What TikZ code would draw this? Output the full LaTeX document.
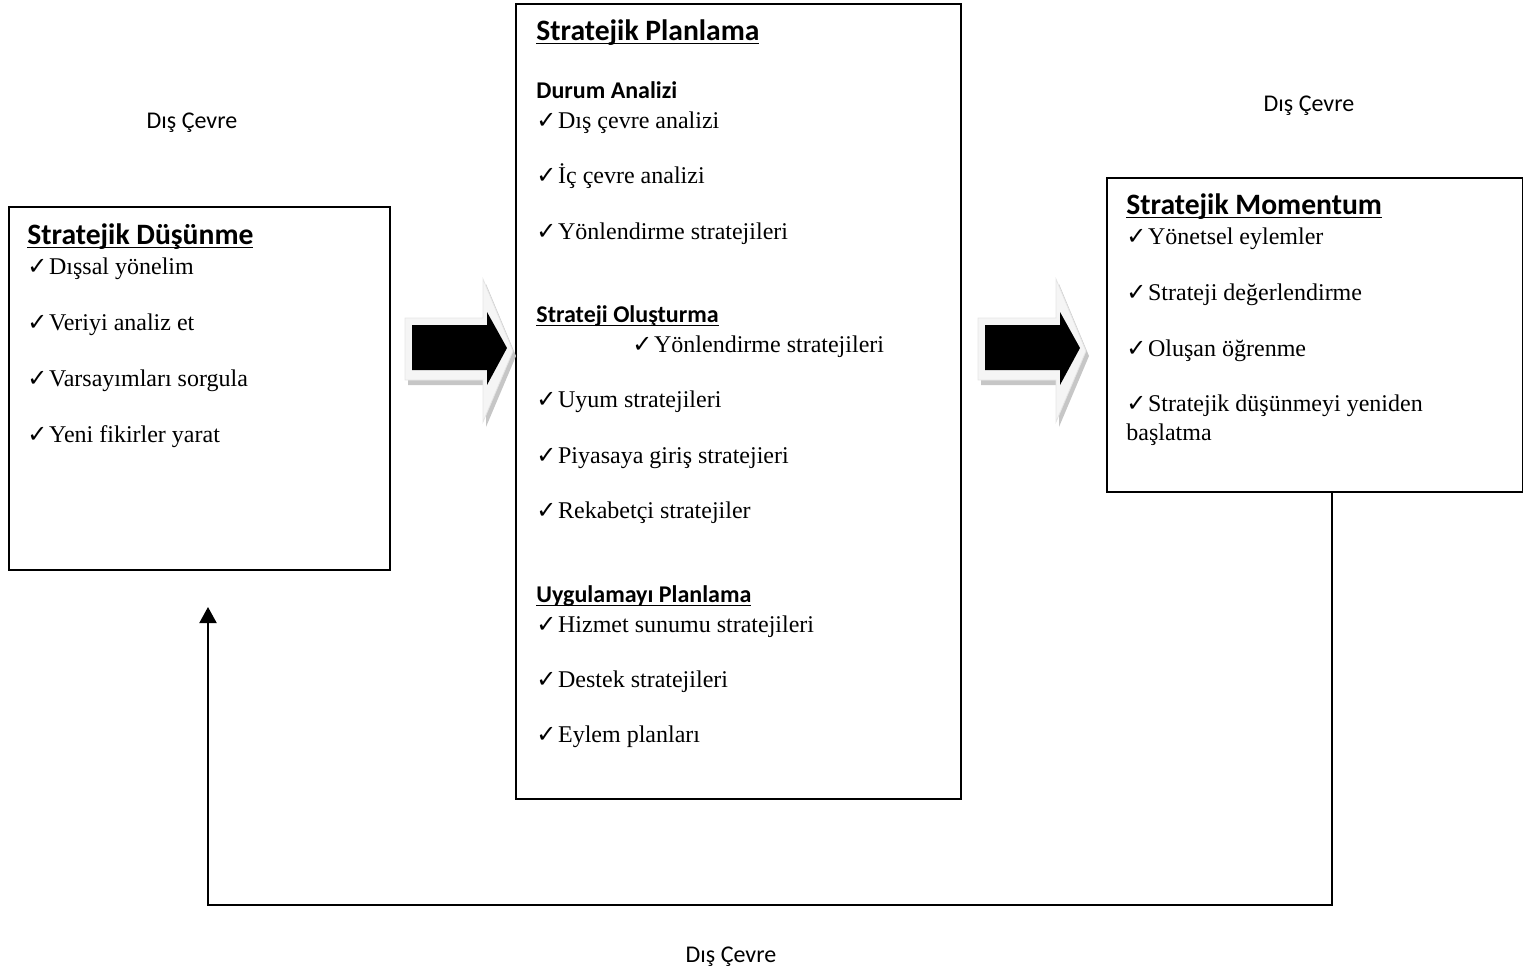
\documentclass[tikz,border=0pt]{standalone}
\usepackage{fontspec}
\setmainfont{Liberation Serif}
\newfontfamily\headfont{Carlito}
\newfontfamily\tickfont{DejaVu Sans}
\usetikzlibrary{positioning,arrows.meta}

\newcommand{\tick}{{\tickfont\fontsize{12}{14}\selectfont ✓}\hspace{0.8pt}}
\newcommand{\hul}[1]{\leavevmode\setbox0\hbox{#1}\rlap{\rule[-2.2pt]{\wd0}{0.9pt}}\box0}

\tikzset{
  box/.style={draw, line width=1pt, anchor=north west, inner sep=0pt},
  head/.style={anchor=base west, inner sep=0pt, font=\headfont\bfseries\fontsize{14.8}{16}\selectfont},
  sub/.style={anchor=base west, inner sep=0pt, font=\headfont\bfseries\fontsize{12}{14}\selectfont},
  item/.style={anchor=base west, inner sep=0pt, font=\fontsize{12}{14}\selectfont},
  cevre/.style={inner sep=0pt, font=\headfont\fontsize{12}{14}\selectfont},
}

\begin{document}
\begin{tikzpicture}[x=0.5pt, y=-0.5pt]
  \useasboundingbox (0,0) rectangle (1523,970);

  % kutular
  \node[box, minimum width=190.5pt, minimum height=181.5pt] (dusunme) at (8,206) {};
  \node[box, minimum width=222.5pt, minimum height=397.5pt] (planlama) at (515,3) {};
  \node[box, minimum width=208pt, minimum height=157pt] (momentum) at (1106,177) {};

  % stratejik dusunme
  \node[head] (dusbaslik) at (27,244) {\hul{Stratejik Düşünme}};
  \foreach \t [count=\i] in {Dışsal yönelim, Veriyi analiz et, Varsayımları sorgula, Yeni fikirler yarat}
    \node[item] (dus\i) at (27,{274+56*(\i-1)}) {\tick\t};

  % stratejik planlama
  \node[head] (planbaslik) at (536,40) {\hul{Stratejik Planlama}};
  \node[sub] (durum) at (536,98) {Durum Analizi};
  \node[item] (durum1) at (536,128) {\tick Dış çevre analizi};
  \node[item] (durum2) at (536,183) {\tick İç çevre analizi};
  \node[item] (durum3) at (536,239) {\tick Yönlendirme stratejileri};
  \node[sub] (olusturma) at (536,322) {\hul{Strateji Oluşturma}};
  \node[item] (olus1) at (632,352) {\tick Yönlendirme stratejileri};
  \node[item] (olus2) at (536,407) {\tick Uyum stratejileri};
  \node[item] (olus3) at (536,463) {\tick Piyasaya giriş stratejieri};
  \node[item] (olus4) at (536,518) {\tick Rekabetçi stratejiler};
  \node[sub] (uygulama) at (536,602) {\hul{Uygulamayı Planlama}};
  \node[item] (uyg1) at (536,632) {\tick Hizmet sunumu stratejileri};
  \node[item] (uyg2) at (536,687) {\tick Destek stratejileri};
  \node[item] (uyg3) at (536,742) {\tick Eylem planları};

  % stratejik momentum
  \node[head] (mombaslik) at (1126,214) {\hul{Stratejik Momentum}};
  \node[item] (mom1) at (1126,244) {\tick Yönetsel eylemler};
  \node[item] (mom2) at (1126,300) {\tick Strateji değerlendirme};
  \node[item] (mom3) at (1126,356) {\tick Oluşan öğrenme};
  \node[item] (mom4) at (1126,411) {\tick Stratejik düşünmeyi yeniden};
  \node[item] (mom5) at (1126,440) {başlatma};

  % dis cevre
  \node[cevre] (cevresol) at (192,123) {Dış Çevre};
  \node[cevre] (cevresag) at (1309,106) {Dış Çevre};
  \node[cevre] (cevrealt) at (731,957) {Dış Çevre};

  % blok oklar
  \foreach \ax in {405,978} {
    \fill[gray!45, shift={(\ax+3,5)}] (0,318) -- (78,318) -- (78,279) -- (108,351) -- (78,422) -- (78,380) -- (0,380) -- cycle;
    \filldraw[fill=gray!8, draw=gray!20, shift={(\ax,0)}] (0,318) -- (78,318) -- (78,279) -- (108,351) -- (78,422) -- (78,380) -- (0,380) -- cycle;
    \fill[black, shift={(\ax,0)}] (7,325) -- (82,325) -- (82,312) -- (102,348) -- (82,385) -- (82,370) -- (7,370) -- cycle;
  }

  % geri besleme
  \coordinate (fbx) at (1332,0);
  \draw[line width=1pt, -{Triangle[length=8pt, width=8.5pt]}]
    (momentum.south -| fbx) -- ++(0,412) -| ([xshift=4.25pt, yshift=-18pt]dusunme.south);
\end{tikzpicture}
\end{document}
